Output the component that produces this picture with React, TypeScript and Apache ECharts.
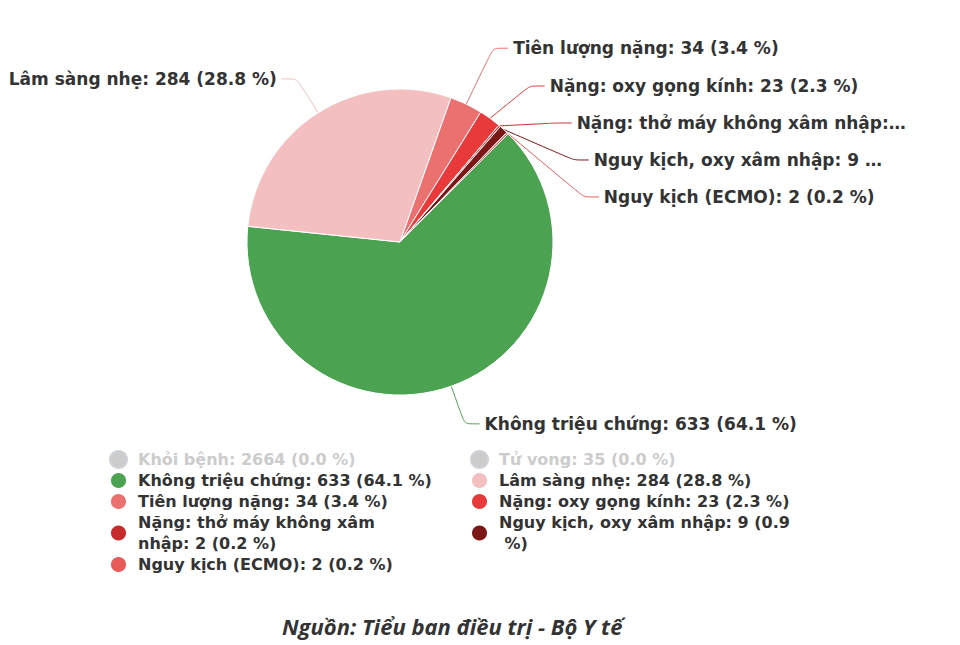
import { useEffect, useRef } from 'react'
import * as echarts from 'echarts'

// Dữ liệu
const names = [
  'Khỏi bệnh',
  'Tử vong',
  'Không triệu chứng',
  'Lâm sàng nhẹ',
  'Tiên lượng nặng',
  'Nặng: oxy gọng kính',
  'Nặng: thở máy không xâm nhập',
  'Nguy kịch, oxy xâm nhập',
  'Nguy kịch (ECMO)'
]
const values = [2664, 35, 633, 284, 34, 23, 2, 9, 2]
const colors = ['#c8c8c8', '#c8c8c8', '#4ba351', '#f4bfc0', '#eb7070', '#e83a3a', '#c62a2a', '#7b1717', '#e85b5b']
const hiddenNames = ['Khỏi bệnh', 'Tử vong']
const leftNames = [names[0], names[2], names[4], names[6], names[8]]
const rightNames = [names[1], names[3], names[5], names[7]]
const source = 'Nguồn: Tiểu ban điều trị - Bộ Y tế'

const FONT = 'DejaVu Sans'

// độ rộng chữ chú thích riêng cho vài mục (để xuống dòng giống bản gốc)
const legendWidths: Record<string, number> = {
  'Nặng: thở máy không xâm nhập': 270,
  'Nguy kịch, oxy xâm nhập': 315
}

const App: React.FC = () => {
  const chartRef = useRef<HTMLDivElement | null>(null)

  useEffect(() => {
    if (chartRef.current === null) return
    const chart = echarts.init(chartRef.current, undefined, { renderer: 'svg' })

    const visibleTotal = values.reduce((s, v, i) => (hiddenNames.includes(names[i]) ? s : s + v), 0)
    const pctOf = (name: string): string => {
      const i = names.indexOf(name)
      if (hiddenNames.includes(name)) return '0.0'
      return ((values[i] / visibleTotal) * 100).toFixed(1)
    }
    const selected: Record<string, boolean> = {}
    hiddenNames.forEach((n) => { selected[n] = false })

    const legendText = {
      fontFamily: FONT,
      fontWeight: 'bold',
      fontSize: 16,
      color: '#333333',
      lineHeight: 21,
      width: 340,
      overflow: 'break',
      padding: [0, 0, 0, 6]
    }
    const legendData = (list: string[]) =>
      list.map((n) => (legendWidths[n] !== undefined
        ? { name: n, textStyle: { ...legendText, width: legendWidths[n] } }
        : { name: n }))

    const legendBase = {
      orient: 'vertical',
      top: 444,
      icon: 'circle',
      itemWidth: 17,
      itemHeight: 17,
      itemGap: 0,
      selected,
      inactiveColor: '#cccccc',
      formatter: (name: string) => `${name}: ${values[names.indexOf(name)]} (${pctOf(name)} %)`,
      textStyle: legendText
    }

    // vài nhãn cần chỉnh riêng
    const itemExtra = (n: string): Record<string, any> => {
      if (n === 'Tiên lượng nặng') return { labelLine: { length: 62 } }
      if (n === 'Nguy kịch, oxy xâm nhập') return { label: { width: 338 } }
      return {}
    }

    const option = {
      animation: false,
      color: colors,
      title: {
        text: source,
        left: 277,
        top: 610,
        textStyle: {
          fontFamily: 'Open Sans',
          fontStyle: 'italic',
          fontWeight: 'bold',
          fontSize: 22,
          color: '#333333'
        }
      },
      legend: [
        { ...legendBase, left: 104, data: legendData(leftNames) },
        { ...legendBase, left: 465, data: legendData(rightNames) }
      ],
      series: [
        {
          type: 'pie',
          left: -30,
          top: 0,
          right: -5,
          bottom: 0,
          center: [430, 242],
          radius: 153,
          startAngle: 45,
          clockwise: true,
          itemStyle: { borderColor: '#ffffff', borderWidth: 1 },
          emphasis: { disabled: true },
          label: {
            show: true,
            position: 'outside',
            fontFamily: FONT,
            fontWeight: 'bold',
            fontSize: 17,
            color: '#333333',
            lineHeight: 35,
            overflow: 'truncate',
            ellipsis: '…',
            formatter: (p: any) => `${p.name}: ${p.value} (${pctOf(p.name)} %)`
          },
          labelLine: { show: true, length: 40, length2: 15, smooth: 0.2, lineStyle: { width: 1 } },
          data: names.map((n, i) => ({ name: n, value: values[i], ...itemExtra(n) }))
        }
      ]
    }

    chart.setOption(option)
    return () => {
      chart.dispose()
    }
  }, [])

  return (
    <div
      ref={chartRef}
      style={{ position: 'fixed', left: 0, top: 0, width: 960, height: 645, background: '#ffffff' }}
    ></div>
  )
}

export default App
